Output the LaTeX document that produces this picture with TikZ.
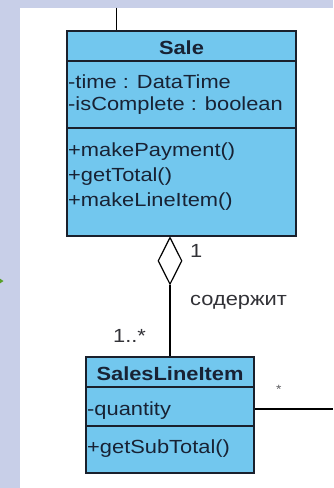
\documentclass[tikz,border=0pt]{standalone}
\usepackage{fontspec}
\setmainfont{Liberation Sans}[FakeStretch=1.15]
\usetikzlibrary{shapes.geometric}
\definecolor{bg}{RGB}{200,207,232}
\definecolor{classfill}{RGB}{114,199,238}
\definecolor{ink}{RGB}{26,32,44}
\definecolor{txt}{RGB}{24,34,52}
\definecolor{lbl}{RGB}{50,50,55}
\definecolor{arrowgreen}{RGB}{88,160,40}
\begin{document}
\begin{tikzpicture}[x=1pt,y=-1pt,
  classbox/.style={draw=ink, line width=1.5pt, fill=classfill, inner sep=0pt, rectangle},
  sepline/.style={draw=ink, line width=1.5pt},
  member/.style={anchor=base west, inner sep=0pt, font=\fontsize{19}{21}\selectfont, text=txt},
  classname/.style={anchor=base, inner sep=0pt, font=\fontsize{19}{21}\selectfont\bfseries, text=txt},
  conn/.style={draw=black, line width=1.2pt},
  mult/.style={anchor=base west, inner sep=0pt, font=\fontsize{19}{21}\selectfont, text=lbl},
  aggr/.style={shape=diamond, draw=black, line width=1.2pt, fill=white, inner sep=0pt,
    minimum width=24pt, minimum height=47pt},
]
\useasboundingbox (0,0) rectangle (333,488);
% background
\fill[bg] (0,0) rectangle (333,488);
\fill[white] (19.5,7.5) rectangle (333,488);
% green arrow tip at left edge
\fill[arrowgreen] (-4,276) -- (3.5,281) -- (-4,286) -- cycle;

% Sale class
\node[classbox, minimum width=229pt, minimum height=205pt] (sale) at (181.5,133.5) {};
\draw[sepline] (sale.west |- 0,61) -- (sale.east |- 0,61);
\draw[sepline] (sale.west |- 0,128) -- (sale.east |- 0,128);
\node[classname] (saleT) at (181.5,54) {Sale};
\node[member] (saleA1) at (68,88) {-time : DataTime};
\node[member] (saleA2) at (68,110) {-isComplete : boolean};
\node[member] (saleM1) at (68,156) {+makePayment()};
\node[member] (saleM2) at (68,181) {+getTotal()};
\node[member] (saleM3) at (68,206) {+makeLineItem()};

% line leaving Sale upward
\coordinate (topend) at (116.5,7.5);
\draw[conn] (topend) -- (topend |- sale.north);

% SalesLineItem class
\node[classbox, minimum width=168pt, minimum height=116pt] (sli) at (170,415) {};
\draw[sepline] (sli.west |- 0,387) -- (sli.east |- 0,387);
\draw[sepline] (sli.west |- 0,426) -- (sli.east |- 0,426);
\node[classname] (sliT) at (170,380) {SalesLineItem};
\node[member] (sliA1) at (87,415) {-quantity};
\node[member] (sliM1) at (87,453) {+getSubTotal()};

% aggregation
\node[aggr, anchor=north] (dia) at (sale.south -| 170,0) {};
\draw[conn] (dia.south) -- (dia.south |- sli.north);
\node[mult] (m1) at (190,257) {1};
\node[mult] (assoc) at (190,305) {содержит};
\node[mult] (m2) at (113,342) {1..*};

% association to the right
\coordinate (rightend) at (333,409);
\draw[conn] (sli.east |- rightend) -- (rightend);
\node[mult, font=\fontsize{12}{14}\selectfont, text=lbl!80] (m3) at (276,393) {*};
\end{tikzpicture}
\end{document}
